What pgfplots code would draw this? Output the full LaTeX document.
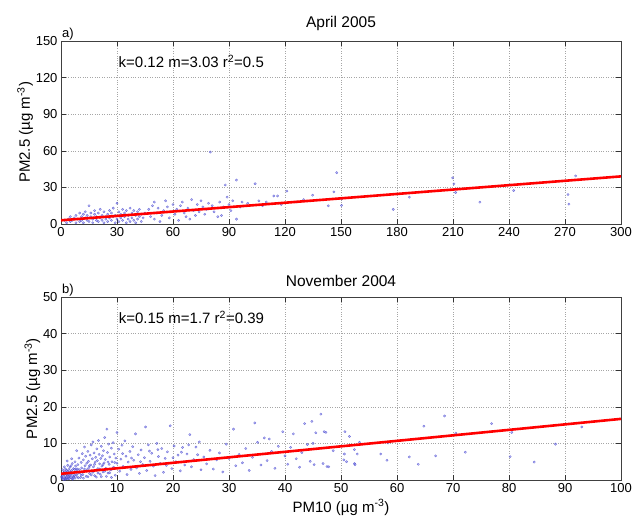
\documentclass[border=0pt]{standalone}
\usepackage{fontspec}
\setmainfont{Liberation Sans}
\usepackage{pgfplots}
\pgfplotsset{compat=1.18}
\usepackage{pgfplotstable}

\pgfplotstableread{
x y
2 3
3 1
4 4
5 2
5 6
6 3
7 5
8 1
8 7
9 4
10 2
10 9
11 6
11 3
12 8
12 1
13 5
13 10
14 3
14 7
15 15
15 2
16 6
16 9
17 4
17 1
18 8
18 11
19 3
19 6
20 9
20 2
21 5
21 12
22 7
22 3
23 1
23 10
24 6
24 4
25 8
25 2
26 11
26 5
27 3
27 9
28 6
28 13
29 1
29 7
30 17
30 4
31 10
31 2
32 8
32 5
33 12
33 3
34 6
34 9
35 1
35 11
36 4
36 7
37 13
37 2
38 9
38 5
39 3
39 11
40 7
40 1
41 10
41 4
42 6
42 12
43 2
43 8
44 5
45 9
47 12
48 6
49 15
50 18
50 4
51 9
52 13
53 2
54 7
55 11
56 19
57 14
58 5
59 10
60 16
61 8
62 12
63 3
64 15
65 18
66 9
67 6
68 13
69 4
70 20
71 11
72 7
73 16
74 10
75 19
76 14
77 8
78 12
79 17
80 59
81 15
82 10
84 6
85 18
86 7
87 14
88 32
89 22
90 16
91 11
92 19
94 36
94 4
96 14
97 18
100 17
104 33
106 19
108 15
110 18
114 23
116 23
118 16
121 27
126 18
130 20
134.8 23.6
143.2 14.9
146.2 26.3
147.7 42.1
150.3 15.2
150.3 20.6
178 12
186.6 22
209.8 37.8
210.5 32.9
211.4 25.8
224.4 17.9
242.5 27.4
271.6 24.2
272.1 16.3
275.7 39.4
}\aprdata

\pgfplotstableread{
x y
0.2 0.3
0.3 1.2
0.4 0.5
0.5 2.1
0.5 0.1
0.6 1.5
0.7 0.8
0.8 3.0
0.8 0.2
0.9 1.9
1.0 0.6
1.0 2.6
1.1 1.1
1.2 4.0
1.2 0.3
1.3 1.7
1.4 2.9
1.4 0.9
1.5 0.4
1.6 2.2
1.6 3.5
1.7 1.3
1.8 0.7
1.9 2.6
2.0 1.6
2.0 4.5
2.1 0.2
2.2 3.1
2.3 1.0
2.4 2.0
2.5 5.0
2.5 0.5
2.6 3.8
2.7 1.4
2.8 8.0
2.8 2.5
2.9 0.9
3.0 4.2
3.0 1.8
0.3 2.8
0.1 0.8
0.6 3.6
1.1 5.2
1.9 5.8
0.4 1.7
0.9 0.4
1.5 1.2
2.2 0.8
0.2 0.9
0.7 0.3
1.0 1.5
1.3 0.5
1.7 2.0
2.0 0.4
2.4 1.2
2.7 3.0
3.1 0.6
3.4 2.0
3.6 1.3
4.0 0.5
4.2 3.0
4.5 2.4
4.8 0.9
5.1 3.9
5.4 1.4
5.7 2.1
6.0 4.3
6.3 0.8
6.6 1.9
6.9 3.0
7.2 0.9
7.5 4.2
7.8 2.4
8.1 1.0
8.4 4.9
8.7 2.0
9.0 0.7
9.3 3.2
9.6 4.8
0.6 2.3
1.2 2.4
1.8 3.9
2.4 2.9
3.0 3.0
3.2 6.0
3.3 2.8
3.5 0.7
3.6 4.8
3.7 3.3
3.8 7.2
3.9 1.5
4.0 5.5
4.1 2.3
4.2 9.0
4.3 3.9
4.4 6.5
4.5 1.0
4.6 4.6
4.7 2.9
4.8 7.8
4.9 5.1
5.0 3.4
5.1 1.8
5.2 6.8
5.3 4.1
5.4 9.6
5.5 2.5
5.6 5.8
5.7 10.4
5.8 3.6
5.9 7.4
6.0 1.2
6.1 4.9
6.2 6.2
6.3 2.7
6.4 8.5
6.5 5.3
6.6 3.1
6.7 10.8
6.8 7.0
6.9 4.4
7.0 1.6
7.1 5.9
7.2 9.2
7.3 3.8
7.4 6.6
7.5 2.2
7.6 8.0
7.7 4.7
7.8 11.6
7.9 5.6
8.0 3.2
8.2 13.9
8.3 7.5
8.4 1.9
8.5 9.8
8.6 4.3
8.7 6.3
8.9 2.8
9.0 8.7
9.1 5.0
9.3 10.2
9.4 3.5
9.5 7.1
9.7 1.3
9.8 6.0
10.0 13.0
10.0 4.6
10.3 8.4
10.5 2.4
10.7 5.7
10.9 9.5
11.1 3.7
11.4 10.7
11.6 6.5
11.8 1.5
12.0 4.9
12.3 7.8
12.5 2.9
12.8 9.1
13.0 5.4
13.3 12.6
13.5 3.3
13.8 6.9
14.0 1.8
14.3 8.2
14.6 4.2
14.9 6.1
15.1 14.5
15.3 2.6
15.6 9.6
15.9 5.1
16.2 7.3
16.5 3.8
16.8 1.2
17.1 10.0
17.4 6.4
17.7 4.5
18.0 8.6
18.3 2.1
18.6 5.9
19.0 7.7
19.5 14.8
19.8 3.1
20.2 9.3
20.5 5.0
20.9 6.8
21.3 2.5
21.7 8.9
22.1 4.1
22.5 7.1
23.0 12.4
23.3 3.6
23.7 5.6
24.1 9.0
24.7 10.4
25.0 2.8
11.0 7.2
12.6 6.0
14.2 5.0
15.8 7.9
17.3 8.3
18.8 4.0
20.0 6.1
21.5 7.6
22.8 9.6
24.4 6.9
25.5 6.3
26.0 4.4
26.6 8.1
27.2 3.0
27.8 5.5
28.3 7.4
28.9 2.2
29.5 9.8
30.0 5.9
30.8 13.9
31.2 3.9
31.8 7.0
32.4 4.7
33.0 8.6
33.6 2.6
34.2 6.2
34.6 15.6
35.1 10.3
35.7 4.1
36.3 11.5
36.8 5.3
37.2 11.2
37.6 7.8
38.2 3.2
38.8 9.2
39.6 13.2
40.0 6.6
40.5 4.3
41.0 8.9
41.5 12.6
42.0 5.8
42.6 3.5
43.0 7.5
43.5 15.4
44.0 9.7
44.8 16.0
45.0 10.0
45.5 12.9
44.5 5.1
45.2 4.2
46.4 18.0
46.8 4.5
47.0 13.2
47.3 13.0
47.5 3.7
47.8 3.6
48.6 8.0
50.5 5.5
50.6 7.1
50.7 13.2
51.0 5.0
51.5 11.9
52.4 8.3
52.4 4.5
52.5 4.2
52.9 7.1
53.3 10.3
57.1 7.1
58.2 5.4
58.4 10.1
62.2 6.3
63.8 4.3
64.8 14.7
66.9 6.6
68.5 17.5
70.5 12.8
72.2 7.6
76.9 15.4
80.2 6.4
80.5 13.0
84.5 4.9
88.3 9.8
93.0 14.5
}\novdata

\definecolor{ptblue}{RGB}{50,50,205}

\pgfplotsset{
  mstyle/.style={
    scale only axis, width=560pt, height=183pt,
    tick align=inside, xtick pos=both, ytick pos=both,
    major tick length=5pt,
    tick style={black!80, line width=0.5pt},
    axis line style={black!75, line width=0.6pt},
    grid=major, grid style={dotted, black!35, line width=0.5pt},
    tick label style={font=\fontsize{13}{13}\selectfont},
    label style={font=\fontsize{15}{15}\selectfont},
    title style={font=\fontsize{15.5}{15.5}\selectfont, yshift=1pt},
    /pgf/number format/assume math mode=true,
    scaled ticks=false,
    clip mode=individual,
  },
  scat/.style={only marks, mark=*, mark size=1.2pt,
    mark options={draw=ptblue, fill=ptblue!60, draw opacity=0.65, fill opacity=0.55, line width=0.3pt}},
  fit/.style={red, line width=2.6pt}
}

\begin{document}
\begin{tikzpicture}[x=1pt,y=1pt]
\useasboundingbox (0,0) rectangle (634,523);
\begin{axis}[mstyle, at={(61pt,299pt)}, anchor=south west,
  xmin=0, xmax=300, ymin=0, ymax=150,
  xtick={0,30,...,300}, ytick={0,30,...,150},
  title={April 2005},
  ylabel={PM2.5 (µg m\textsuperscript{-3})},
  ylabel style={yshift=-4pt}]
\addplot[scat] table[x=x,y=y] {\aprdata};
\addplot[fit] coordinates {(0,3.03) (300,39.03)};
\node[anchor=west, font=\fontsize{15}{15}\selectfont] at (axis cs:29,133) {k=0.12 m=3.03 r\textsuperscript{2}=0.5};
\node[anchor=south west, font=\fontsize{13}{13}\selectfont, inner sep=1pt] at (rel axis cs:0,1) {a)};
\end{axis}
\begin{axis}[mstyle, at={(61pt,43pt)}, anchor=south west,
  xmin=0, xmax=100, ymin=0, ymax=50,
  xtick={0,10,...,100}, ytick={0,10,...,50},
  title={November 2004},
  xlabel={PM10 (µg m\textsuperscript{-3})},
  ylabel={PM2.5 (µg m\textsuperscript{-3})},
  ylabel style={yshift=-4pt}]
\addplot[scat] table[x=x,y=y] {\novdata};
\addplot[fit] coordinates {(0,1.7) (100,16.7)};
\node[anchor=west, font=\fontsize{15}{15}\selectfont] at (axis cs:9.7,44.5) {k=0.15 m=1.7 r\textsuperscript{2}=0.39};
\node[anchor=south west, font=\fontsize{13}{13}\selectfont, inner sep=1pt] at (rel axis cs:0,1) {b)};
\end{axis}
\end{tikzpicture}
\end{document}
